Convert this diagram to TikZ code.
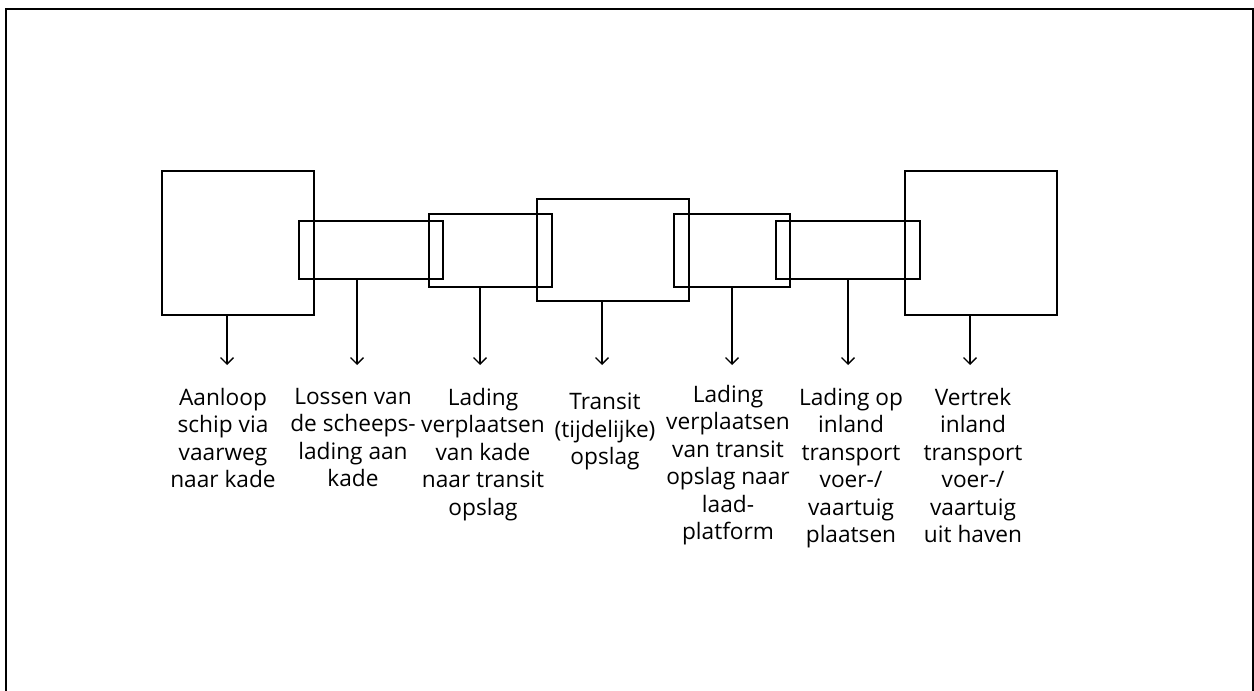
\documentclass[tikz,border=0pt]{standalone}
\usepackage{fontspec}
\setmainfont{Open Sans}
\usetikzlibrary{arrows.meta,positioning}

\tikzset{
  stage/.style={draw, line width=0.25mm, inner sep=0pt},
  drop/.style={line width=0.25mm, -{Straight Barb[length=1.3mm,width=2.6mm]}},
  caption/.style={align=center, anchor=north, inner sep=0pt,
    font=\fontsize{12.9}{15.6}\selectfont}
}

\begin{document}
\begin{tikzpicture}[x=0.2mm,y=-0.2mm]
  \useasboundingbox (0,0) rectangle (1254,691);
  \draw[line width=0.35mm] (6,700) -- (6,9) -- (1253,9) -- (1253,700);

  % stages
  \node[stage, minimum width=30.4mm, minimum height=28.8mm] (aanloop) at (238,243) {};
  \node[stage, minimum width=28.8mm, minimum height=11.6mm] (lossen) at (371,250) {};
  \node[stage, minimum width=24.6mm, minimum height=14.6mm] (kade) at (490.5,250.5) {};
  \node[stage, minimum width=30.4mm, minimum height=20.4mm] (transit) at (613,250) {};
  \node[stage, minimum width=23.2mm, minimum height=14.6mm] (platform) at (732,250.5) {};
  \node[stage, minimum width=28.8mm, minimum height=11.6mm] (inland) at (848,250) {};
  \node[stage, minimum width=30.4mm, minimum height=28.8mm] (vertrek) at (981,243) {};

  % arrow ends
  \coordinate (d1) at (227,365);
  \coordinate (d2) at (357,365);
  \coordinate (d3) at (480,365);
  \coordinate (d4) at (602,365);
  \coordinate (d5) at (732,365);
  \coordinate (d6) at (848,365);
  \coordinate (d7) at (970,365);

  \draw[drop] (aanloop.south -| d1) -- (d1);
  \draw[drop] (lossen.south -| d2) -- (d2);
  \draw[drop] (kade.south -| d3) -- (d3);
  \draw[drop] (transit.south -| d4) -- (d4);
  \draw[drop] (platform.south -| d5) -- (d5);
  \draw[drop] (inland.south -| d6) -- (d6);
  \draw[drop] (vertrek.south -| d7) -- (d7);

  % captions
  \node[caption] (t1) at (223,388) {Aanloop\\schip via\\vaarweg\\naar kade};
  \node[caption] (t2) at (353,388) {Lossen van\\de scheeps-\\lading aan\\kade};
  \node[caption] (t3) at (483,388) {Lading\\verplaatsen\\van kade\\naar transit\\opslag};
  \node[caption] (t4) at (605,393) {Transit\\(tijdelijke)\\opslag};
  \node[caption] (t5) at (728,385) {Lading\\verplaatsen\\van transit\\opslag naar\\laad-\\platform};
  \node[caption] (t6) at (851,388) {Lading op\\inland\\transport\\voer-/\\vaartuig\\plaatsen};
  \node[caption] (t7) at (973,388) {Vertrek\\inland\\transport\\voer-/\\vaartuig\\uit haven};
\end{tikzpicture}
\end{document}
